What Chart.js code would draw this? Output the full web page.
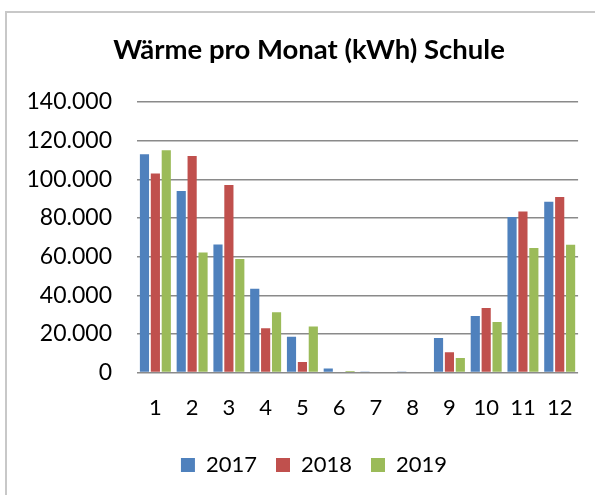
<!DOCTYPE html>
<html>
<head>
<meta charset="utf-8">
<script src="https://cdn.jsdelivr.net/npm/chart.js@4/dist/chart.umd.min.js"></script>
<style>
  html, body { margin: 0; padding: 0; background: #fff; }
  #wrap { position: relative; width: 595px; height: 495px; overflow: hidden; }
  #frame { position: absolute; left: 5px; top: 11px; width: 600px; height: 500px;
           border-top: 2px solid #c8c8c8; border-left: 2px solid #c8c8c8; }
  canvas { position: absolute; left: 0; top: 0; }
</style>
</head>
<body>
<div id="wrap">
  <div id="frame"></div>
  <canvas id="c" width="595" height="495"></canvas>
</div>
<script>
const categories = ['1','2','3','4','5','6','7','8','9','10','11','12'];
const seriesNames = ['2017','2018','2019'];
const values2017 = [113000, 93900, 66300, 43400, 18600, 2100, 300, 300, 17900, 29300, 80500, 88400];
const values2018 = [103000, 112000, 97000, 22900, 5500, 0, 0, 0, 10500, 33400, 83400, 90800];
const values2019 = [115100, 62200, 58800, 31200, 23800, 800, 500, 500, 7600, 26200, 64400, 66100];
const yTicks = [0, 20000, 40000, 60000, 80000, 100000, 120000, 140000];
const titleText = 'Wärme pro Monat (kWh) Schule';
const colors = ['#4F81BD', '#C0504D', '#9BBB59'];

const fmt = v => v === 0 ? '0' : String(v).replace(/\B(?=(\d{3})+(?!\d))/g, '.');
const FONT = 'Lato, Carlito, Calibri, sans-serif';

const shiftPlugin = {
  id: 'shiftBoxes',
  afterLayout(chart) {
    if (chart.titleBlock) { chart.titleBlock.left += 18; chart.titleBlock.right += 18; }
    if (chart.legend) {
      chart.legend.left += 23; chart.legend.right += 23;
      chart.legend.top -= 8; chart.legend.bottom -= 8;
    }
  }
};

new Chart(document.getElementById('c'), {
  type: 'bar',
  data: {
    labels: categories,
    datasets: [values2017, values2018, values2019].map((d, i) => ({
      label: seriesNames[i],
      data: d,
      backgroundColor: colors[i],
      borderWidth: 0,
      barPercentage: 0.84,
      categoryPercentage: 0.89
    }))
  },
  plugins: [shiftPlugin],
  options: {
    responsive: false,
    animation: false,
    layout: { padding: { top: 0, right: 13, bottom: 1, left: 0 } },
    plugins: {
      title: {
        display: true,
        text: titleText,
        color: '#000',
        font: { family: FONT, size: 27.5, weight: 'bold' },
        padding: { top: 34, bottom: 35 }
      },
      legend: {
        position: 'bottom',
        labels: {
          color: '#000',
          font: { family: FONT, size: 22 },
          boxWidth: 14,
          boxHeight: 14,
          padding: 19
        }
      },
      tooltip: { enabled: false }
    },
    scales: {
      x: {
        grid: { display: false, drawTicks: false },
        border: { display: false },
        ticks: { color: '#000', font: { family: FONT, size: 22 }, padding: 22, maxRotation: 0 }
      },
      y: {
        min: 0,
        max: 140000,
        afterBuildTicks: s => { s.ticks = yTicks.map(v => ({ value: v })); },
        afterFit: s => { s.width = 137; },
        grid: { color: '#8a8a8a', lineWidth: 1.5, drawTicks: false },
        border: { display: false },
        ticks: {
          color: '#000',
          font: { family: FONT, size: 23 },
          padding: 25,
          callback: v => fmt(v)
        }
      }
    }
  }
});
</script>
</body>
</html>
